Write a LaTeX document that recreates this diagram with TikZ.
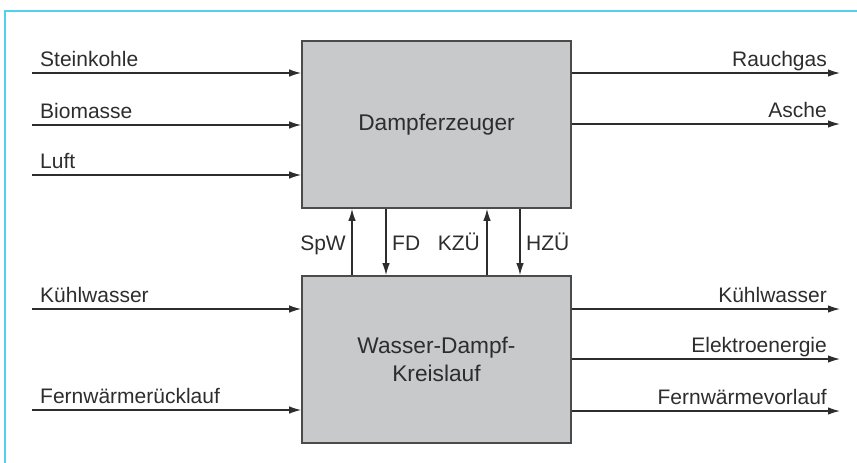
\documentclass[tikz,border=0pt]{standalone}
\usepackage{fontspec}
\setmainfont{Liberation Sans}
\usetikzlibrary{arrows.meta}
\definecolor{boxgray}{RGB}{200,201,203}
\definecolor{edgegray}{RGB}{75,75,75}
\definecolor{inkgray}{RGB}{45,45,45}
\definecolor{framecyan}{RGB}{85,208,236}
\begin{document}
\begin{tikzpicture}[x=1pt,y=-1pt,
  block/.style={draw=edgegray,fill=boxgray,line width=1.6pt,minimum width=269pt,minimum height=167pt,inner sep=0pt,align=center,text=inkgray,font=\fontsize{22.7}{28.4}\selectfont},
  flow/.style={draw=inkgray,line width=1.3pt,-{Latex[length=12pt,width=7.5pt]}},
  lbl/.style={inner sep=0pt,text=inkgray,font=\fontsize{21}{25}\selectfont}]
\path[use as bounding box] (0,0) rectangle (857,463);
\draw[framecyan,line width=2pt] (5,463)--(5,11)--(857,11);

\node[block] (dampf) at (436.5,124.5) {Dampferzeuger};
\node[block] (kreis) at (436.5,359.5) {Wasser-Dampf-\\Kreislauf};

% inputs Dampferzeuger
\coordinate (kohle) at (32,73);
\coordinate (bio) at (32,125);
\coordinate (luft) at (32,175);
\draw[flow] (kohle)--(kohle-|dampf.west);
\draw[flow] (bio)--(bio-|dampf.west);
\draw[flow] (luft)--(luft-|dampf.west);
\node[lbl,anchor=base west] (lkohle) at (40,66) {Steinkohle};
\node[lbl,anchor=base west] (lbio) at (40,118) {Biomasse};
\node[lbl,anchor=base west] (lluft) at (40,168) {Luft};

% outputs Dampferzeuger
\coordinate (rauch) at (840,73);
\coordinate (asche) at (840,124);
\draw[flow] (rauch-|dampf.east)--(rauch);
\draw[flow] (asche-|dampf.east)--(asche);
\node[lbl,anchor=base east] (lrauch) at (827,66) {Rauchgas};
\node[lbl,anchor=base east] (lasche) at (827,117) {Asche};

% inputs Kreislauf
\coordinate (kwin) at (32,309);
\coordinate (fwr) at (32,410);
\draw[flow] (kwin)--(kwin-|kreis.west);
\draw[flow] (fwr)--(fwr-|kreis.west);
\node[lbl,anchor=base west] (lkwin) at (40,302) {Kühlwasser};
\node[lbl,anchor=base west] (lfwr) at (40,403) {Fernwärmerücklauf};

% outputs Kreislauf
\coordinate (kwout) at (840,309);
\coordinate (strom) at (840,359);
\coordinate (fwv) at (840,411);
\draw[flow] (kwout-|kreis.east)--(kwout);
\draw[flow] (strom-|kreis.east)--(strom);
\draw[flow] (fwv-|kreis.east)--(fwv);
\node[lbl,anchor=base east] (lkwout) at (827,302) {Kühlwasser};
\node[lbl,anchor=base east] (lstrom) at (827,352) {Elektroenergie};
\node[lbl,anchor=base east] (lfwv) at (827,404) {Fernwärmevorlauf};

% coupling
\draw[flow] (352,0|-kreis.north)--(352,0|-dampf.south);
\draw[flow] (386,0|-dampf.south)--(386,0|-kreis.north);
\draw[flow] (487,0|-kreis.north)--(487,0|-dampf.south);
\draw[flow] (520,0|-dampf.south)--(520,0|-kreis.north);
\node[lbl,anchor=base east] (lspw) at (346,250) {SpW};
\node[lbl,anchor=base west] (lfd) at (392,250) {FD};
\node[lbl,anchor=base east] (lkzu) at (480,250) {KZÜ};
\node[lbl,anchor=base west] (lhzu) at (526,250) {HZÜ};
\end{tikzpicture}
\end{document}
